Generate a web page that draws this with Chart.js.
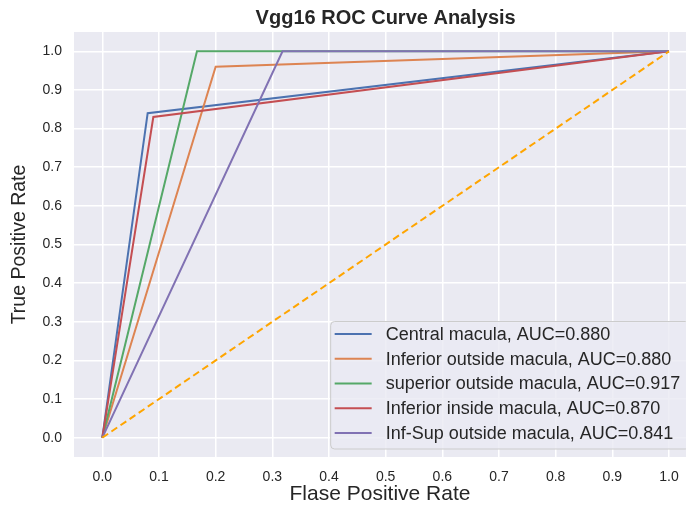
<!DOCTYPE html>
<html>
<head>
<meta charset="utf-8">
<script src="https://cdn.jsdelivr.net/npm/chart.js@4.4.1/dist/chart.umd.min.js"></script>
<style>
  html, body { margin: 0; padding: 0; background: #ffffff; }
  #wrap { width: 686px; height: 508px; position: relative; }
</style>
</head>
<body>
<div id="wrap"><canvas id="chart"></canvas></div>
<script>
// data
const tickValues = [0, 0.1, 0.2, 0.3, 0.4, 0.5, 0.6, 0.7, 0.8, 0.9, 1.0];
const seriesNames = ['Central macula', 'Inferior outside macula', 'superior outside macula', 'Inferior inside macula', 'Inf-Sup outside macula'];
const aucValues = [0.880, 0.880, 0.917, 0.870, 0.841];
const seriesColors = ['#4c72b0', '#dd8452', '#55a868', '#c44e52', '#8172b3'];

const centralFpr = [0, 0.08, 1];
const centralTpr = [0, 0.84, 1];
const infOutFpr = [0, 0.2, 1];
const infOutTpr = [0, 0.96, 1];
const supOutFpr = [0, 0.167, 1];
const supOutTpr = [0, 1, 1];
const infInFpr = [0, 0.09, 1];
const infInTpr = [0, 0.83, 1];
const infSupFpr = [0, 0.318, 1];
const infSupTpr = [0, 1, 1];
const chanceFpr = [0, 1];
const chanceTpr = [0, 1];

const fprList = [centralFpr, infOutFpr, supOutFpr, infInFpr, infSupFpr];
const tprList = [centralTpr, infOutTpr, supOutTpr, infInTpr, infSupTpr];

const chartTitle = 'Vgg16 ROC Curve Analysis';
const FONT = '"Liberation Sans", Arial, Helvetica, sans-serif';
const TEXT = '#262626';

const toPoints = (xs, ys) => xs.map((x, i) => ({ x, y: ys[i] }));

const datasets = seriesNames.map((name, i) => ({
  label: name + ', AUC=' + aucValues[i].toFixed(3),
  data: toPoints(fprList[i], tprList[i]),
  borderColor: seriesColors[i],
  borderWidth: 2,
  showLine: true,
  pointRadius: 0,
  tension: 0,
  order: 6 - i
}));
datasets.push({
  label: 'chance',
  data: toPoints(chanceFpr, chanceTpr),
  borderColor: '#ffa500',
  borderWidth: 2,
  borderDash: [7, 4],
  showLine: true,
  pointRadius: 0,
  order: 0
});

// grey axes background + title centred on the (cropped) axes box
const plotBg = {
  id: 'plotBg',
  beforeDraw(chart) {
    const { ctx, chartArea: a, scales } = chart;
    ctx.save();
    ctx.fillStyle = '#eaeaf2';
    ctx.fillRect(a.left, a.top, a.right - a.left, a.bottom - a.top);
    ctx.fillStyle = TEXT;
    ctx.font = 'bold 20px ' + FONT;
    ctx.textAlign = 'center';
    ctx.textBaseline = 'middle';
    const cx = (a.left + scales.x.getPixelForValue(1.05)) / 2;
    ctx.fillText(chartTitle, cx, 18);
    ctx.restore();
  }
};

// matplotlib-like legend, lower right inside the axes
const legendBox = {
  id: 'legendBox',
  afterDatasetsDraw(chart) {
    const { ctx, chartArea, scales } = chart;
    const labels = datasets.slice(0, seriesNames.length).map(d => d.label);
    ctx.save();
    ctx.font = '18px ' + FONT;
    const textW = Math.max(...labels.map(l => ctx.measureText(l).width));
    const rowH = 24.75;
    const right = scales.x.getPixelForValue(1.05) - 8;
    const bottom = chartArea.bottom - 8;
    const w = 4 + 37 + 14 + textW + 9;
    const h = 12.5 + rowH * (labels.length - 1) + 16;
    const left = right - w, top = bottom - h;

    ctx.beginPath();
    ctx.roundRect(left, top, w, h, 4);
    ctx.fillStyle = 'rgba(234,234,242,0.8)';
    ctx.fill();
    ctx.strokeStyle = '#cccccc';
    ctx.lineWidth = 1;
    ctx.stroke();

    labels.forEach((l, i) => {
      const y = top + 12.5 + i * rowH;
      ctx.beginPath();
      ctx.moveTo(left + 4, y);
      ctx.lineTo(left + 41, y);
      ctx.strokeStyle = seriesColors[i];
      ctx.lineWidth = 2;
      ctx.stroke();
      ctx.fillStyle = TEXT;
      ctx.textBaseline = 'middle';
      ctx.textAlign = 'left';
      ctx.fillText(l, left + 55, y + 1);
    });
    ctx.restore();
  }
};

const fixTicks = scale => { scale.ticks = tickValues.map(v => ({ value: v })); };

new Chart(document.getElementById('chart'), {
  type: 'scatter',
  data: { datasets },
  options: {
    responsive: true,
    maintainAspectRatio: false,
    animation: false,
    layout: { padding: { top: 32, left: 0, right: 0, bottom: 0 } },
    scales: {
      x: {
        type: 'linear',
        min: -0.05,
        max: 1.03,
        afterBuildTicks: fixTicks,
        afterFit: s => { s.height = 51; s.paddingLeft = 0; s.paddingRight = 0; },
        grid: { color: '#ffffff', lineWidth: 1.5, drawTicks: false },
        border: { display: false },
        ticks: {
          padding: 12,
          color: TEXT,
          font: { family: FONT, size: 14 },
          callback: v => v.toFixed(1)
        },
        title: {
          display: true,
          text: 'Flase Positive Rate',
          color: TEXT,
          font: { family: FONT, size: 21 },
          padding: { top: 0, bottom: 1 }
        }
      },
      y: {
        type: 'linear',
        min: -0.05,
        max: 1.05,
        afterBuildTicks: fixTicks,
        afterFit: s => { s.width = 74; s.paddingTop = 0; s.paddingBottom = 0; },
        grid: { color: '#ffffff', lineWidth: 1.5, drawTicks: false },
        border: { display: false },
        ticks: {
          padding: 12,
          color: TEXT,
          font: { family: FONT, size: 14 },
          callback: v => v.toFixed(1)
        },
        title: {
          display: true,
          text: 'True Positive Rate',
          color: TEXT,
          font: { family: FONT, size: 19.5 },
          padding: { top: 8, bottom: 0 }
        }
      }
    },
    plugins: {
      legend: { display: false },
      tooltip: { enabled: false },
      title: { display: false }
    }
  },
  plugins: [plotBg, legendBox]
});
</script>
</body>
</html>
